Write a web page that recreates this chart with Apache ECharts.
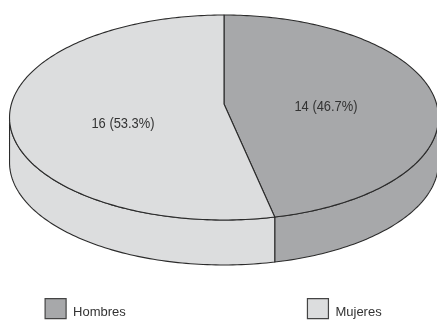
<!DOCTYPE html>
<html>
<head>
<meta charset="utf-8">
<style>html,body{margin:0;padding:0;background:#fff}#c{width:437px;height:320px}</style>
<script src="https://cdn.jsdelivr.net/npm/echarts@6/dist/echarts.min.js"></script>
</head>
<body>
<div id="c"></div>
<script>
var categories = ["Hombres", "Mujeres"];
var counts = [14, 16];
var colors = ["#a7a8aa", "#dcddde"];

// layout of the tilted disc (perspective projection of a circle)
var CX = 224, CY = 104, A = 212.6, B = 100.7, K = 0.1317, DEPTH = 45;
var STROKE = "#2b2b2b";
var labelPos = [[326, 107], [123, 124]];
var total = counts.reduce(function (a, b) { return a + b; }, 0);

function project(deg) {
  var t = deg * Math.PI / 180, u = Math.sin(t), v = -Math.cos(t), d = 1 - K * v;
  return [CX + A * u / d, CY + B * v / d];
}
function arc(a0, a1) {
  var pts = [], n = Math.max(2, Math.ceil(Math.abs(a1 - a0)));
  for (var i = 0; i <= n; i++) pts.push(project(a0 + (a1 - a0) * i / n));
  return pts;
}
function span(i) {
  var before = counts.slice(0, i).reduce(function (a, b) { return a + b; }, 0);
  return [before / total * 360, (before + counts[i]) / total * 360];
}
var FRONT0 = Math.acos(-K) * 180 / Math.PI, FRONT1 = 360 - FRONT0;

function renderTop(i) {
  return function (params, api) {
    var s = span(i), pts = [[CX, CY]].concat(arc(s[0], s[1]));
    return {
      type: "group",
      children: [{
        type: "polygon",
        shape: { points: pts },
        style: { fill: colors[i], stroke: STROKE, lineWidth: 1.1, lineJoin: "round" }
      }, {
        type: "text",
        x: labelPos[i][0], y: labelPos[i][1], z2: 10, scaleX: 0.86,
        style: {
          text: api.value(0) + " (" + (api.value(0) / total * 100).toFixed(1) + "%)",
          fill: "#333", font: "15px 'Liberation Sans', sans-serif",
          align: "center", verticalAlign: "middle"
        }
      }]
    };
  };
}
function renderWall(i) {
  return function () {
    var s = span(i), a0 = Math.max(s[0], FRONT0), a1 = Math.min(s[1], FRONT1);
    if (a1 <= a0) return null;
    var top = arc(a0, a1);
    var bottom = top.slice().reverse().map(function (p) { return [p[0], p[1] + DEPTH]; });
    return {
      type: "polygon",
      shape: { points: top.concat(bottom) },
      style: { fill: colors[i], stroke: STROKE, lineWidth: 1.1, lineJoin: "round" }
    };
  };
}

var series = [];
categories.forEach(function (name, i) {
  series.push({
    type: "custom", name: name, coordinateSystem: "none", z: 2, silent: true,
    itemStyle: { color: colors[i] }, data: [[counts[i]]], renderItem: renderWall(i)
  });
});
categories.forEach(function (name, i) {
  series.push({
    type: "custom", name: name, coordinateSystem: "none", z: 3, silent: true,
    itemStyle: { color: colors[i] }, data: [[counts[i]]], renderItem: renderTop(i)
  });
});

var chart = echarts.init(document.getElementById("c"), null, { renderer: "canvas" });
chart.setOption({
  animation: false,
  backgroundColor: "#fff",
  legend: {
    left: 44.5, top: 298, orient: "horizontal", selectedMode: false,
    itemWidth: 21, itemHeight: 20, itemGap: 181, padding: 0,
    icon: "rect",
    itemStyle: { borderColor: "#444", borderWidth: 1.2 },
    formatter: "{a|{name}}",
    textStyle: {
      fontFamily: "'Liberation Sans', sans-serif", fontSize: 13, color: "#333",
      rich: { a: { fontFamily: "'Liberation Sans', sans-serif", fontSize: 13, color: "#333", padding: [7, 0, 0, 2] } }
    },
    data: categories.map(function (n, i) {
      return { name: n, itemStyle: { color: colors[i], borderColor: "#444", borderWidth: 1.2 } };
    })
  },
  series: series
});
</script>
</body>
</html>
